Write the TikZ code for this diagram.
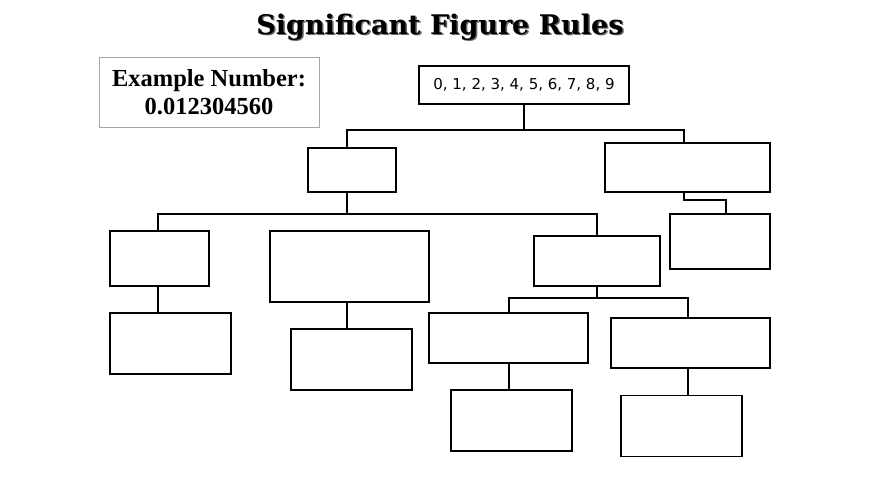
\documentclass[tikz,border=0pt]{standalone}
\usepackage{fontspec}
\setmainfont{Liberation Serif}
\newfontfamily\sansf{DejaVu Sans}
\newfontfamily\titlef{DejaVu Serif}
\begin{document}
\begin{tikzpicture}[x=1pt,y=-1pt,
  bx/.style={draw,line width=1.1pt,inner sep=0pt,minimum width=#1},
  ln/.style={line width=1.6pt}]
\useasboundingbox (0,0) rectangle (880,495);
\node[font=\titlef\bfseries\fontsize{27}{30}\selectfont,text=black!60] (shadow) at (441.5,28.5) {Significant Figure Rules};
\node[font=\titlef\bfseries\fontsize{27}{30}\selectfont] (title) at (440,27) {Significant Figure Rules};
\node[draw=black!35,line width=0.6pt,minimum width=220pt,minimum height=70pt,inner sep=0pt,font=\bfseries\fontsize{24.5}{28}\selectfont,align=center] (ex) at (209,92) {Example Number:\\0.012304560};
\node[bx=210pt,line width=1.8pt,minimum height=38pt,font=\sansf\fontsize{15}{17}\selectfont] (top) at (524,85) {0, 1, 2, 3, 4, 5, 6, 7, 8, 9};
\node[bx=88pt,minimum height=44pt] (A) at (352,170) {};
\node[bx=165pt,minimum height=49pt] (B) at (687.5,167.5) {};
\node[bx=100pt,minimum height=55pt] (C) at (720,241.5) {};
\node[bx=99pt,minimum height=55pt] (D) at (159.5,258.5) {};
\node[bx=159pt,minimum height=71pt] (E) at (349.5,266.5) {};
\node[bx=126pt,minimum height=50pt] (F) at (597,261) {};
\node[bx=121pt,minimum height=61pt] (G) at (170.5,343.5) {};
\node[bx=121pt,minimum height=61pt] (H) at (351.5,359.5) {};
\node[bx=159pt,minimum height=50pt] (I) at (508.5,338) {};
\node[bx=159pt,minimum height=50pt] (J) at (690.5,343) {};
\node[bx=121pt,minimum height=61pt] (K) at (511.5,420.5) {};
\node[bx=121pt,minimum height=61pt] (L) at (681.5,426) {};
\draw[ln] (top.south) -- ++(0,26);
\draw[ln] (A.north -| 347,0) -- (347,130) -- (684,130) -- (B.north -| 684,0);
\draw[ln] (B.south -| 684,0) -- (684,200) -- (726,200) -- (C.north -| 726,0);
\draw[ln] (A.south -| 347,0) -- (347,214);
\draw[ln] (D.north -| 158,0) -- (158,214) -- (597,214) -- (F.north);
\draw[ln] (D.south -| 158,0) -- (G.north -| 158,0);
\draw[ln] (E.south -| 347,0) -- (H.north -| 347,0);
\draw[ln] (F.south) -- (597,298);
\draw[ln] (I.north -| 509,0) -- (509,298) -- (688,298) -- (J.north -| 688,0);
\draw[ln] (I.south -| 509,0) -- (K.north -| 509,0);
\draw[ln] (J.south -| 688,0) -- (L.north -| 688,0);
\end{tikzpicture}
\end{document}
